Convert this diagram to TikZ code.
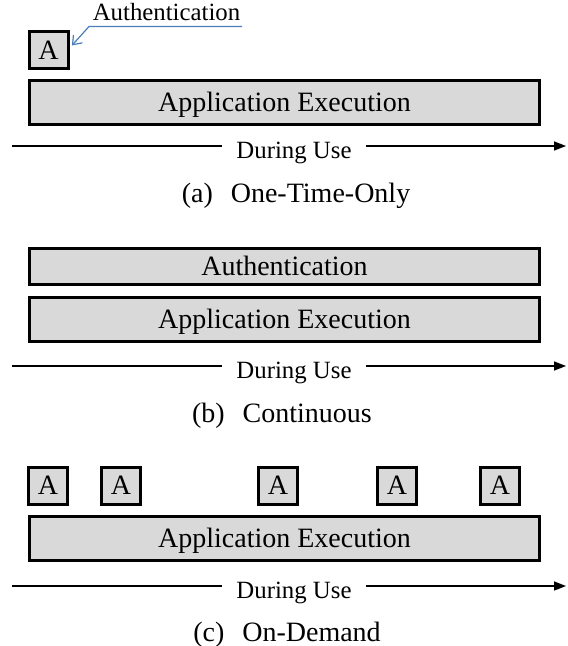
\documentclass[tikz,border=0pt]{standalone}
\usepackage{fontspec}
\setmainfont{Liberation Serif}
\usepackage{xcolor}
\usetikzlibrary{arrows.meta}
\definecolor{boxgray}{HTML}{D9D9D9}
\definecolor{notblue}{HTML}{4A7EBB}

\begin{document}
\begin{tikzpicture}[x=0.5pt, y=-0.5pt,
    bar/.style={draw, line width=1.5pt, fill=boxgray, inner sep=0pt, minimum width=255pt, text height=9.3pt, text depth=0pt, font=\fontsize{14}{16}\selectfont},
    authbox/.style={draw, line width=1.5pt, fill=boxgray, inner sep=0pt, minimum width=19.5pt, minimum height=18.5pt, text height=9.3pt, text depth=0pt, font=\fontsize{14}{16}\selectfont},
    timeline/.style={line width=0.8pt},
    uselbl/.style={font=\fontsize{12.4}{14}\selectfont, inner sep=0pt, text height=8.2pt, text depth=0pt},
    caption/.style={font=\fontsize{14}{16}\selectfont, inner sep=0pt, text height=9.3pt, text depth=0pt}]
    \useasboundingbox (0,0) rectangle (567,646);

    % (a) One-time-only
    \node[authbox] (authA) at (48.5,50.5) {A};
    \node[uselbl, anchor=base, text height=, text depth=] (authlbl) at (166.5,21) {Authentication};
    \coordinate (ulR) at (242,26.5);
    \coordinate (ulL) at (89,26.5);
    \draw[notblue, line width=0.6pt, -{Straight Barb[length=4pt,width=6pt]}] (ulR) -- (ulL) -- ([xshift=1.2pt,yshift=2.5pt]authA.east);
    \node[bar, minimum height=22pt] (execA) at (284.5,102.5) {Application Execution};
    \node[uselbl] (useA) at (294,150.5) {During Use};
    \coordinate (startA) at (12,146);
    \coordinate (endA) at (566,146);
    \draw[timeline] (startA) -- ([xshift=-7pt]startA -| useA.west);
    \draw[timeline, -{Triangle[length=6pt,width=4.5pt]}] ([xshift=7pt]endA -| useA.east) -- (endA);
    \node[caption] (capA) at (296,193.5) {(a)\hspace{9pt}One-Time-Only};

    % (b) Continuous
    \node[bar, minimum height=17.5pt] (authB) at (284.5,266.5) {Authentication};
    \node[bar, minimum height=22pt] (execB) at (284.5,319) {Application Execution};
    \node[uselbl] (useB) at (294,370.5) {During Use};
    \coordinate (startB) at (12,366);
    \coordinate (endB) at (566,366);
    \draw[timeline] (startB) -- ([xshift=-7pt]startB -| useB.west);
    \draw[timeline, -{Triangle[length=6pt,width=4.5pt]}] ([xshift=7pt]endB -| useB.east) -- (endB);
    \node[caption] (capB) at (282,413) {(b)\hspace{9pt}Continuous};

    % (c) On-demand
    \foreach \x [count=\i] in {48, 121, 278, 397, 500}
        \node[authbox] (authC\i) at (\x,485.5) {A};
    \node[bar, minimum height=22pt] (execC) at (284.5,538) {Application Execution};
    \node[uselbl] (useC) at (294,590.5) {During Use};
    \coordinate (startC) at (12,586);
    \coordinate (endC) at (566,586);
    \draw[timeline] (startC) -- ([xshift=-7pt]startC -| useC.west);
    \draw[timeline, -{Triangle[length=6pt,width=4.5pt]}] ([xshift=7pt]endC -| useC.east) -- (endC);
    \node[caption] (capC) at (287,632.5) {(c)\hspace{9pt}On-Demand};

\end{tikzpicture}
\end{document}
